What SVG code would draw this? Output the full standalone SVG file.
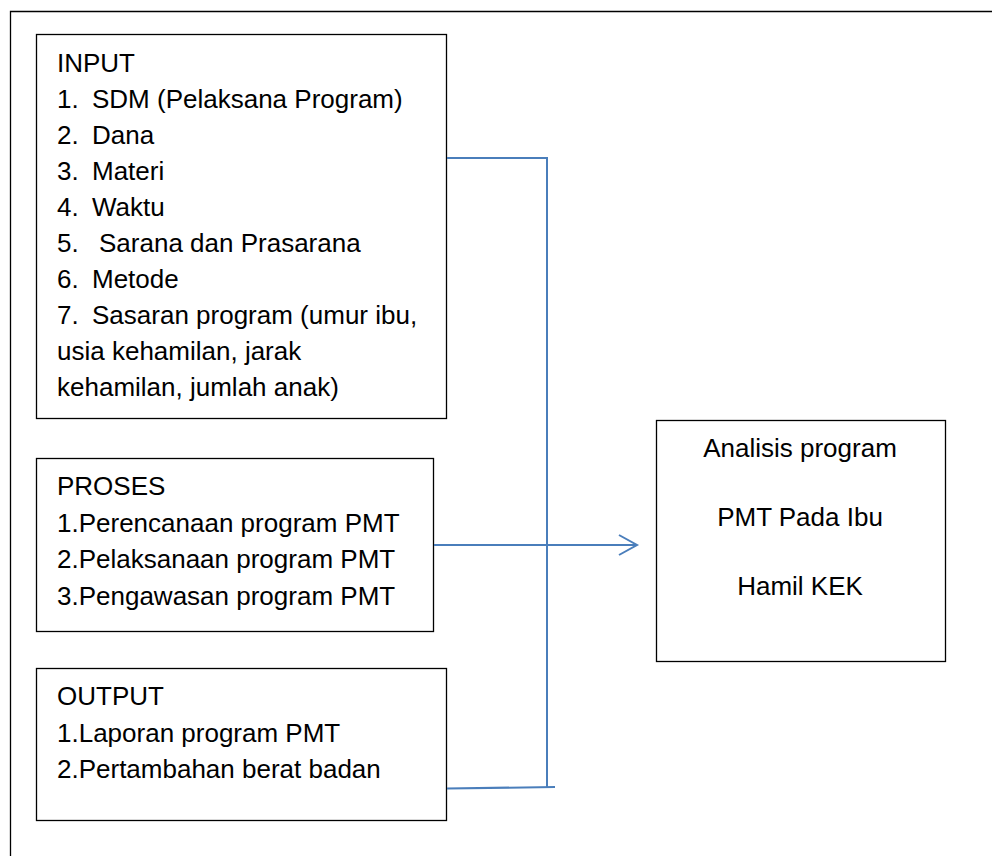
<svg xmlns="http://www.w3.org/2000/svg" width="992" height="856" viewBox="0 0 992 856">
<style>
  .box { fill: #ffffff; stroke: #000000; stroke-width: 1.3; }
  .frame { fill: none; stroke: #000000; stroke-width: 1.3; }
  .t { font-family: "Liberation Sans", Arial, sans-serif; font-size: 26px; fill: #000000; }
  .c { text-anchor: middle; }
  .conn { fill: none; stroke: #4a7ebb; stroke-width: 2; }
</style>
<defs>
  <marker id="arrow" markerWidth="22" markerHeight="24" refX="19" refY="11" orient="auto" markerUnits="userSpaceOnUse">
    <path d="M1,1 L19,11 L1,21" fill="none" stroke="#4a7ebb" stroke-width="2"/>
  </marker>
</defs>
<rect width="992" height="856" fill="#ffffff"/>
<path class="frame" d="M10.5,856 L10.5,11.5 L992,11.5"/>

<g id="input">
  <rect class="box" x="36.5" y="34.5" width="410" height="384"/>
  <text class="t" x="57" y="72">INPUT</text>
  <text class="t" x="57" y="108">1.</text><text class="t" x="92" y="108">SDM (Pelaksana Program)</text>
  <text class="t" x="57" y="144">2.</text><text class="t" x="92" y="144">Dana</text>
  <text class="t" x="57" y="180">3.</text><text class="t" x="92" y="180">Materi</text>
  <text class="t" x="57" y="216">4.</text><text class="t" x="92" y="216">Waktu</text>
  <text class="t" x="57" y="252">5.</text><text class="t" x="99" y="252">Sarana dan Prasarana</text>
  <text class="t" x="57" y="288">6.</text><text class="t" x="92" y="288">Metode</text>
  <text class="t" x="57" y="324">7.</text><text class="t" x="92" y="324">Sasaran program (umur ibu,</text>
  <text class="t" x="57" y="360">usia kehamilan, jarak</text>
  <text class="t" x="57" y="396">kehamilan, jumlah anak)</text>
</g>

<g id="proses">
  <rect class="box" x="36.5" y="458.5" width="397" height="173"/>
  <text class="t" x="57" y="495">PROSES</text>
  <text class="t" x="57" y="532">1.Perencanaan program PMT</text>
  <text class="t" x="57" y="568">2.Pelaksanaan program PMT</text>
  <text class="t" x="57" y="605">3.Pengawasan program PMT</text>
</g>

<g id="output">
  <rect class="box" x="36.5" y="668.5" width="410" height="152"/>
  <text class="t" x="57" y="705">OUTPUT</text>
  <text class="t" x="57" y="742">1.Laporan program PMT</text>
  <text class="t" x="57" y="778">2.Pertambahan berat badan</text>
</g>

<g id="analisis">
  <rect class="box" x="656.5" y="420.5" width="289" height="241"/>
  <text class="t c" x="800" y="457">Analisis program</text>
  <text class="t c" x="800" y="526">PMT Pada Ibu</text>
  <text class="t c" x="800" y="595">Hamil KEK</text>
</g>

<g id="connectors">
  <path class="conn" d="M447,158 L547,158"/>
  <path class="conn" d="M547,157 L547,788"/>
  <path class="conn" d="M447,788.5 L555,787"/>
  <path class="conn" d="M434,545 L637,545" marker-end="url(#arrow)"/>
</g>
</svg>
